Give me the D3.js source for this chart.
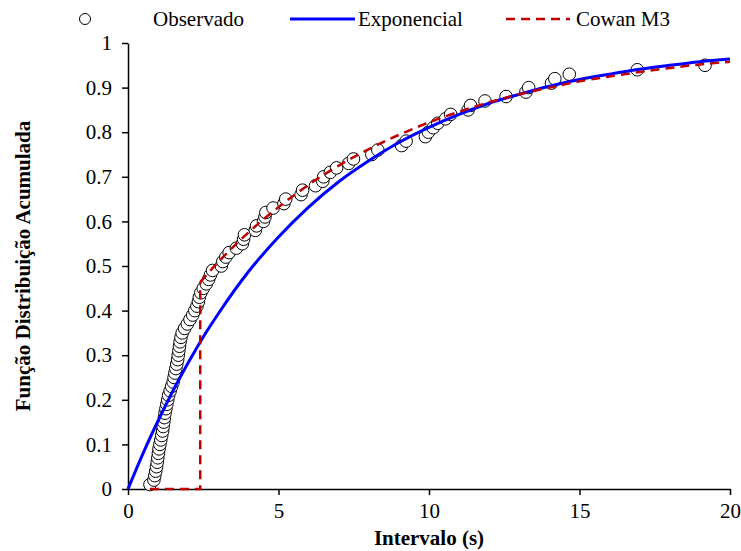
<!DOCTYPE html>
<html lang="pt">
	<head>
		<meta charset="utf-8">
		<title>Função Distribuição Acumulada</title>
		<script type="text/javascript" src="https://cdn.jsdelivr.net/npm/d3@7"></script>
		<style type="text/css">
			body { margin: 0; background: #fff; }
			text { font-family: "Liberation Serif", "Times New Roman", serif; fill: #000; }
		</style>
	</head>
	<body>
		<script type="text/javascript">

			//Width and height
			var w = 741;
			var h = 551;
			var margin = { top: 43, right: 11, bottom: 62, left: 128 };
			var fontSize = "21px";

			// Observed data (interval in s, cumulative frequency)
			var obsX = [0.73, 0.86, 0.89, 0.92, 0.95, 0.97, 0.99, 1.01, 1.03, 1.06,
				1.09, 1.12, 1.15, 1.17, 1.19, 1.21, 1.23, 1.26, 1.29, 1.32,
				1.35, 1.40, 1.45, 1.50, 1.53, 1.56, 1.59, 1.62, 1.65, 1.67,
				1.69, 1.71, 1.73, 1.76, 1.80, 1.88, 1.97, 2.06, 2.15, 2.22,
				2.29, 2.34, 2.37, 2.42, 2.50, 2.60, 2.68, 2.74, 2.81, 3.10,
				3.15, 3.25, 3.36, 3.60, 3.80, 3.84, 3.87, 4.23, 4.27, 4.50,
				4.55, 4.58, 4.82, 5.18, 5.24, 5.75, 5.80, 6.23, 6.47, 6.50,
				6.72, 6.93, 7.33, 7.49, 8.10, 8.30, 9.09, 9.24, 9.88, 9.98,
				10.14, 10.29, 10.55, 10.72, 11.30, 11.38, 11.86, 12.56, 13.22, 13.31,
				14.07, 14.18, 14.66, 16.92, 19.17];
			var obsY = [0.01, 0.02, 0.03, 0.04, 0.05, 0.06, 0.07, 0.08, 0.09, 0.10,
				0.11, 0.12, 0.13, 0.14, 0.15, 0.16, 0.17, 0.18, 0.19, 0.20,
				0.21, 0.22, 0.23, 0.24, 0.25, 0.26, 0.27, 0.28, 0.29, 0.30,
				0.31, 0.32, 0.33, 0.34, 0.35, 0.36, 0.37, 0.38, 0.39, 0.40,
				0.41, 0.42, 0.43, 0.44, 0.45, 0.46, 0.47, 0.48, 0.49, 0.50,
				0.51, 0.52, 0.53, 0.54, 0.55, 0.56, 0.57, 0.58, 0.59, 0.60,
				0.61, 0.62, 0.63, 0.64, 0.65, 0.66, 0.67, 0.68, 0.69, 0.70,
				0.71, 0.72, 0.73, 0.74, 0.75, 0.76, 0.77, 0.78, 0.79, 0.80,
				0.81, 0.82, 0.83, 0.84, 0.85, 0.86, 0.87, 0.88, 0.89, 0.90,
				0.91, 0.92, 0.93, 0.94, 0.95];

			// Exponential curve
			var expX = [0, 0.5, 1, 1.5, 2, 2.5, 3, 4, 5, 6, 7, 8, 9, 10,
				11, 12, 13, 14, 15, 16, 17, 18, 19, 20];
			var expY = [0, 0.080, 0.153, 0.221, 0.283, 0.341, 0.393, 0.487, 0.565, 0.632, 0.689, 0.736, 0.777, 0.811,
				0.840, 0.865, 0.885, 0.903, 0.918, 0.930, 0.941, 0.950, 0.958, 0.964];

			// Cowan M3 curve: zero part, then jump at 2.4 s
			var cowanStepX = [0.73, 2.4, 2.4];
			var cowanStepY = [0, 0, 0.464];
			var cowanX = [2.4, 3, 4, 5, 6, 7, 8, 9, 10, 11, 12, 13, 14, 15, 16, 17, 18, 19, 20];
			var cowanY = [0.464, 0.509, 0.575, 0.632, 0.682, 0.725, 0.762, 0.794, 0.822, 0.846, 0.867,
				0.885, 0.900, 0.914, 0.925, 0.935, 0.944, 0.952, 0.958];

			var xTicks = [0, 5, 10, 15, 20];
			var yTicks = [0, 0.1, 0.2, 0.3, 0.4, 0.5, 0.6, 0.7, 0.8, 0.9, 1];

			var x = d3.scaleLinear().domain([0, 20]).range([margin.left, w - margin.right]);
			var y = d3.scaleLinear().domain([0, 1]).range([h - margin.bottom, margin.top]);

			//Create SVG element
			var svg = d3.select("body")
						.append("svg")
						.attr("width", w)
						.attr("height", h);

			// axes
			var xAxis = d3.axisBottom(x).tickValues(xTicks).tickSize(6).tickSizeOuter(0);
			var yAxis = d3.axisLeft(y).tickValues(yTicks).tickSize(6).tickSizeOuter(0)
				.tickFormat(function(d) { return d3.format("~g")(d); });

			var gx = svg.append("g")
				.attr("transform", "translate(0," + y(0) + ")")
				.call(xAxis);
			var gy = svg.append("g")
				.attr("transform", "translate(" + x(0) + ",0)")
				.call(yAxis);

			[gx, gy].forEach(function(g) {
				g.select(".domain").attr("stroke", "#000").attr("stroke-width", 1.5);
				g.selectAll(".tick line").attr("stroke", "#000").attr("stroke-width", 1.5);
				g.selectAll(".tick text")
					.style("font-family", "'Liberation Serif', serif")
					.style("font-size", fontSize)
					.attr("fill", "#000");
			});
			gx.selectAll(".tick text").attr("y", 14).attr("dy", "0.71em");
			gy.selectAll(".tick text").attr("x", -16);

			// axis titles
			svg.append("text")
				.attr("x", (x(0) + x(20)) / 2)
				.attr("y", 545)
				.attr("text-anchor", "middle")
				.style("font-size", fontSize)
				.style("font-weight", "bold")
				.text("Intervalo (s)");

			svg.append("text")
				.attr("transform", "translate(30," + ((y(0) + y(1)) / 2) + ") rotate(-90)")
				.attr("text-anchor", "middle")
				.style("font-size", fontSize)
				.style("font-weight", "bold")
				.text("Função Distribuição Acumulada");

			function pts(xs, ys) {
				return xs.map(function(v, i) { return [v, ys[i]]; });
			}

			// observed points
			svg.append("g")
				.selectAll("circle")
				.data(pts(obsX, obsY))
				.enter()
				.append("circle")
				.attr("cx", function(d) { return x(d[0]); })
				.attr("cy", function(d) { return y(d[1]); })
				.attr("r", 6.3)
				.attr("fill", "#fff")
				.attr("stroke", "#000")
				.attr("stroke-width", 1);

			// exponential
			var smooth = d3.line()
				.x(function(d) { return x(d[0]); })
				.y(function(d) { return y(d[1]); })
				.curve(d3.curveMonotoneX);
			var straight = d3.line()
				.x(function(d) { return x(d[0]); })
				.y(function(d) { return y(d[1]); });

			svg.append("path")
				.attr("d", smooth(pts(expX, expY)))
				.attr("fill", "none")
				.attr("stroke", "#0000ff")
				.attr("stroke-width", 3);

			// Cowan M3
			svg.append("path")
				.attr("d", straight(pts(cowanStepX, cowanStepY)))
				.attr("fill", "none")
				.attr("stroke", "#c00000")
				.attr("stroke-width", 2.5)
				.attr("stroke-dasharray", "9,6");
			svg.append("path")
				.attr("d", smooth(pts(cowanX, cowanY)))
				.attr("fill", "none")
				.attr("stroke", "#c00000")
				.attr("stroke-width", 2.5)
				.attr("stroke-dasharray", "9,6");

			// legend
			var leg = svg.append("g").attr("transform", "translate(0,19)");
			leg.append("circle").attr("cx", 85).attr("cy", 0).attr("r", 5.5)
				.attr("fill", "#fff").attr("stroke", "#000").attr("stroke-width", 1);
			leg.append("text").attr("x", 153).attr("y", 7).style("font-size", fontSize).text("Observado");
			leg.append("line").attr("x1", 290).attr("x2", 355).attr("y1", 0).attr("y2", 0)
				.attr("stroke", "#0000ff").attr("stroke-width", 3);
			leg.append("text").attr("x", 358).attr("y", 7).style("font-size", fontSize).text("Exponencial");
			leg.append("line").attr("x1", 506).attr("x2", 570).attr("y1", 0).attr("y2", 0)
				.attr("stroke", "#c00000").attr("stroke-width", 2.5).attr("stroke-dasharray", "9,6");
			leg.append("text").attr("x", 576).attr("y", 7).style("font-size", fontSize).text("Cowan M3");

		</script>
	</body>
</html>
